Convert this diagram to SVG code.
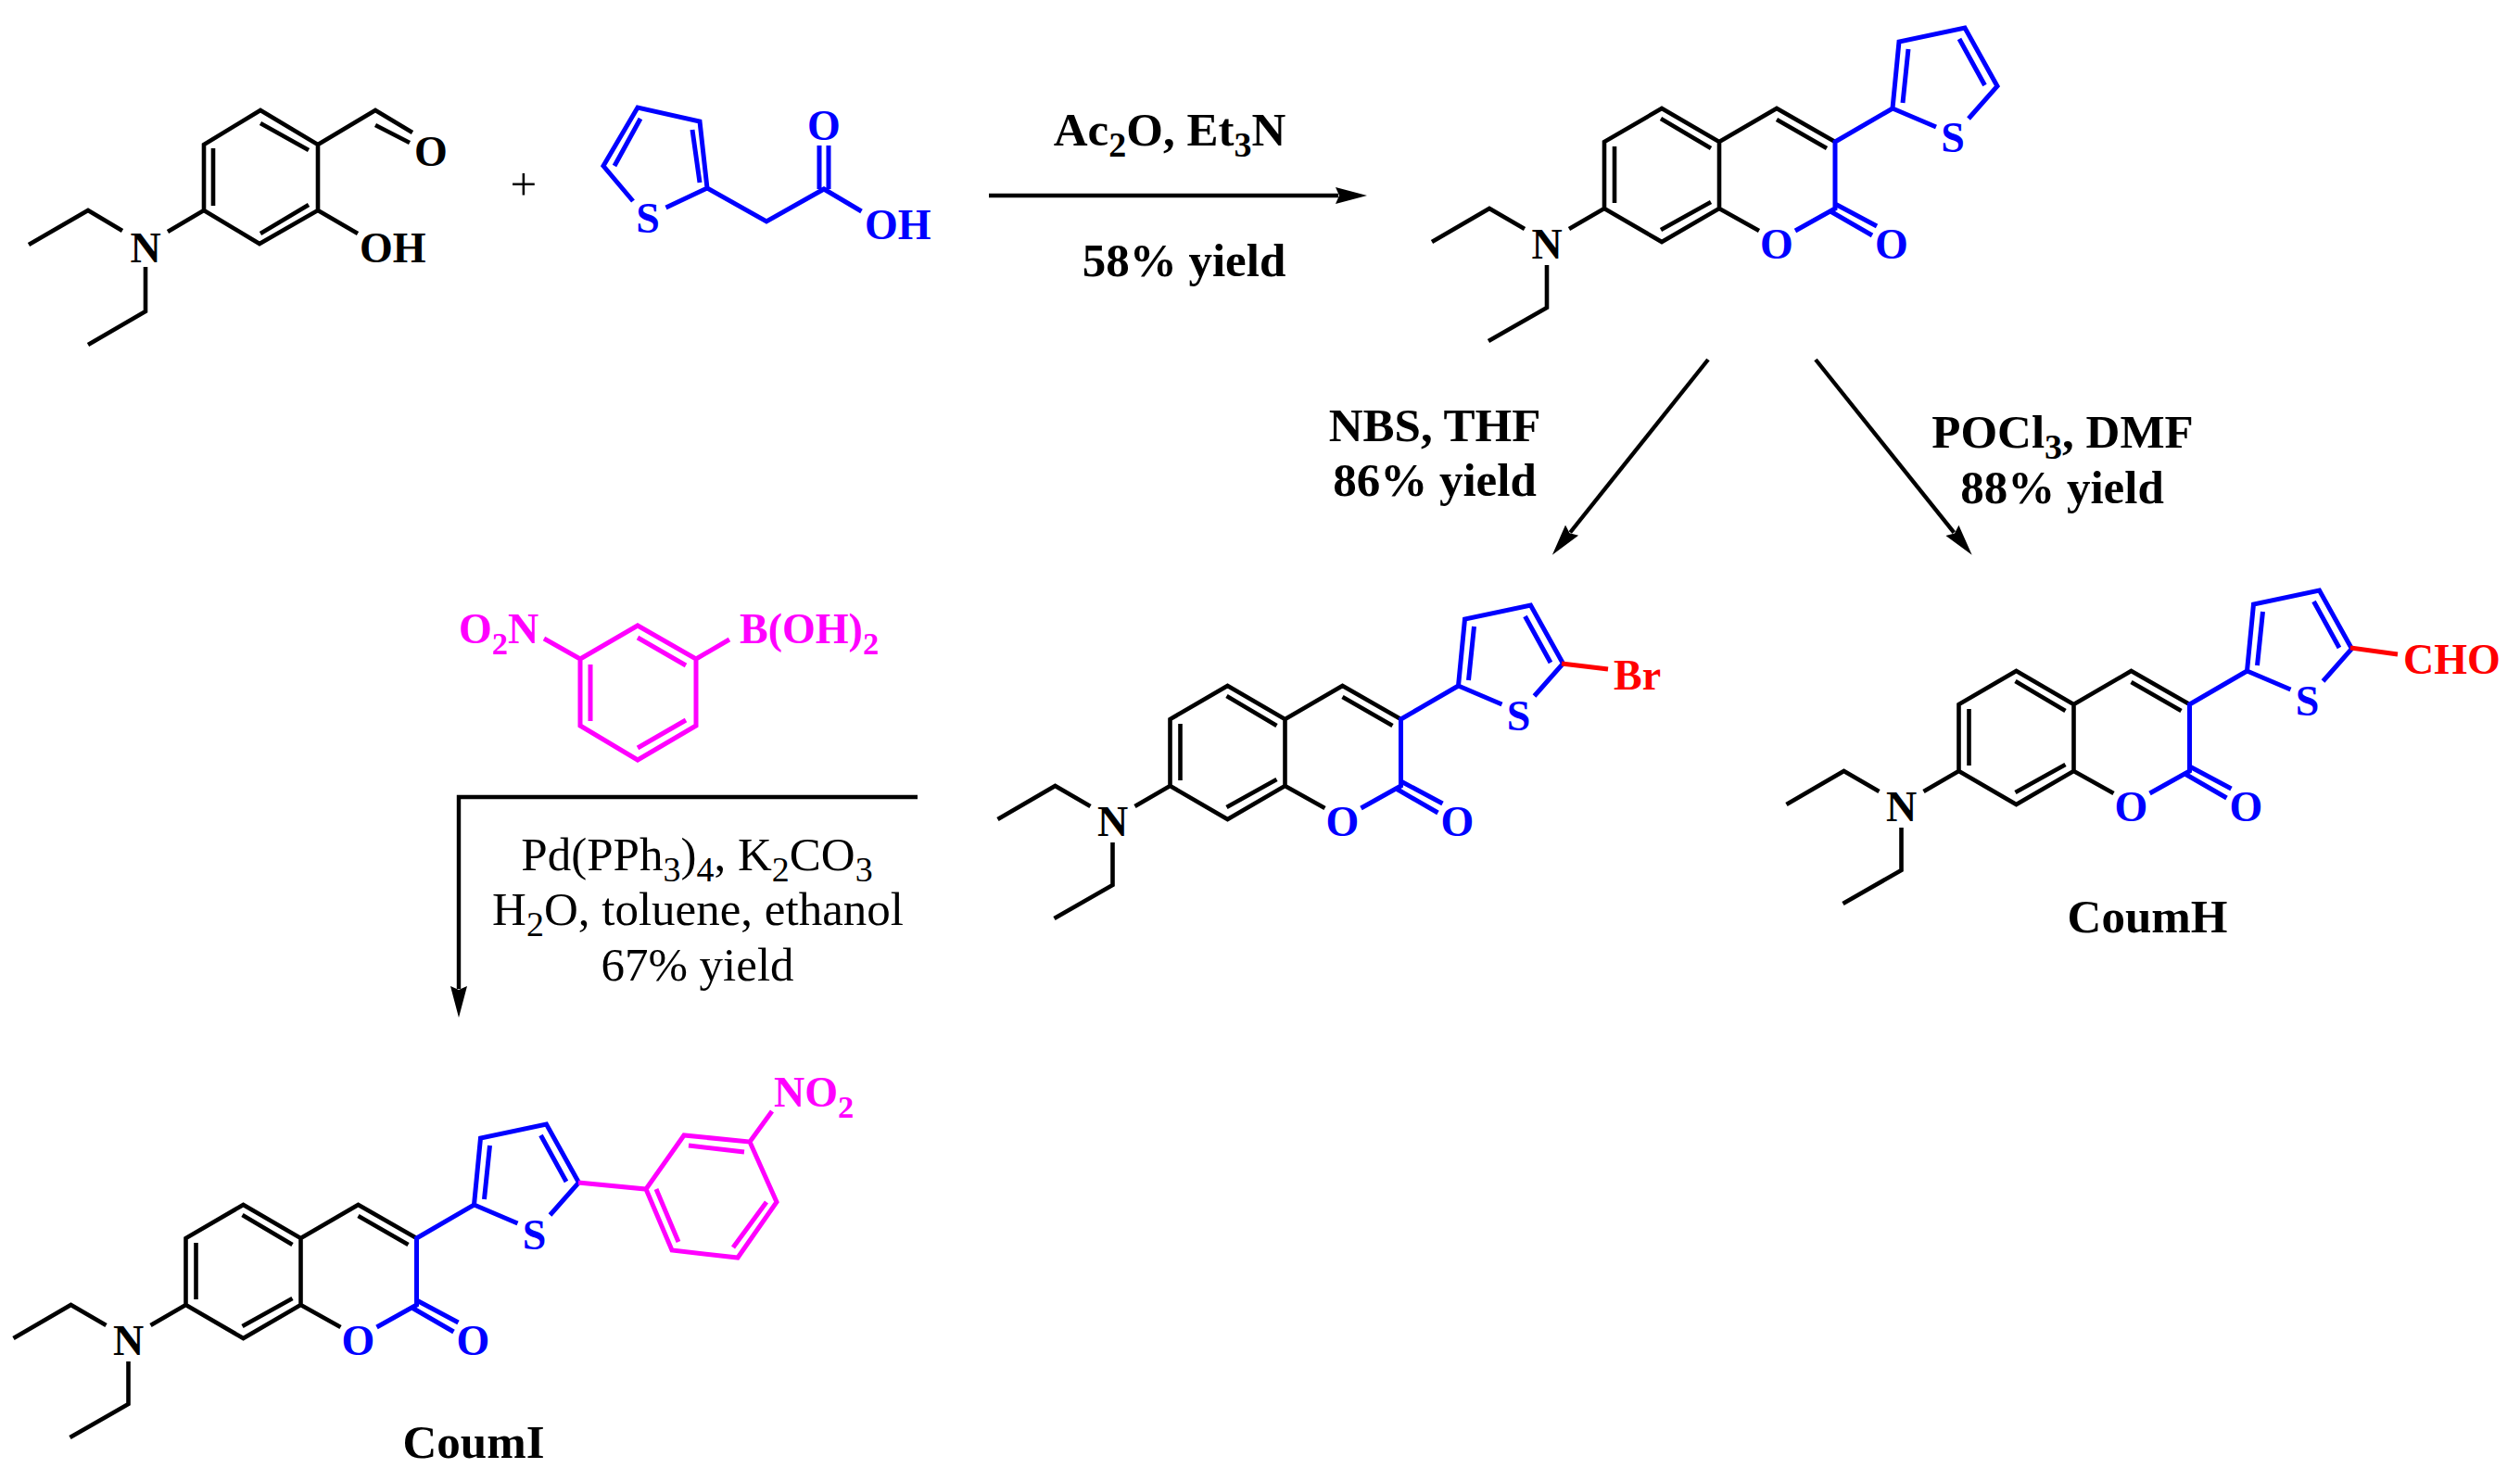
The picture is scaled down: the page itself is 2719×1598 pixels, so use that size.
<svg xmlns="http://www.w3.org/2000/svg" xmlns:xlink="http://www.w3.org/1999/xlink" width="2719" height="1598" viewBox="0 0 2719 1598">
<style>
.k,.b,.m,.r{fill:none;stroke-width:4.6;stroke-linejoin:miter;stroke-miterlimit:6}
.k{stroke:#000}.b{stroke:#00f;stroke-width:5}.m{stroke:#f0f;stroke-width:5}.r{stroke:#f00;stroke-width:5}
.arrow{fill:none;stroke:#000;stroke-width:4.4}
text{font-family:"Liberation Serif","Times New Roman",serif}
.a{font-size:46px;font-weight:700}
.t{font-size:51px;font-weight:700;text-anchor:middle}
.u{font-size:51px;font-weight:400;text-anchor:middle}
.c{text-anchor:middle}
.tk{fill:#000}.tb{fill:#00f}.tm{fill:#f0f}.tr{fill:#f00}
.s45{font-size:34.5px}.s50{font-size:38px}
</style>
<defs>
<marker id="head" markerUnits="userSpaceOnUse" markerWidth="40" markerHeight="24" refX="3" refY="12" orient="auto" viewBox="0 0 40 24">
<path d="M0,3 L34,12 L0,21 L4,12 Z" fill="#000"/>
</marker>
<g id="core">
<path class="k" d="M1545,261 L1607,225 L1645,247 M1669,286 V332 L1606,368 M1693,247 L1731,225 V153 L1793,117 L1855,153 V225 L1793,261 L1731,225 M1855,153 L1917,117 L1980,153 M1855,225 L1898,249 M1792,128 L1846,160 M1742,158 V219 M1846,218 L1792,248 M1917,129 L1971,160"/>
<path class="b" d="M2042,117 L1980,153 V225 L1937,249 M1980,220 L2025,244 M1975,228 L2020,254 M2089,137 L2042,117 L2049,45 L2120,30 L2155,93 L2124,128 M2059,53 L2053,111 M2114,42 L2141.5,92"/>
</g>
</defs>

<g id="salicylaldehyde">
<path class="k" d="M31,264 L95,227 L132,249 M157,288 V336 L95,372 M181,250 L220,227 V156 L281,119 L343,156 V227 L280,263 L220,227 M343,156 L405,119 L445,143 M405,135 L442,154 M281,133 L333,162 M230,160 V222 M333,221 L281,252 M343,227 L386,252"/>
<text class="a c tk" x="157" y="283">N</text>
<text class="a c tk" x="465" y="179">O</text>
<text class="a tk" x="388" y="283">OH</text>
</g>

<g id="plus"><text class="u" x="565" y="216">+</text></g>

<g id="thienylacetic-acid">
<path class="b" d="M683,217 L651,179 L688,116 L755,131 L763,203 L718.5,224 M691,128 L663,179 M747,140 L755,197 M763,203 L827,239 L889,204 L929.5,228 M884,157 V204 M894,157 V204"/>
<text class="a c tb" x="699" y="251">S</text>
<text class="a c tb" x="889" y="151">O</text>
<text class="a tb" x="933" y="258">OH</text>
</g>

<g id="connectors">
<line class="arrow" x1="1067" y1="211" x2="1444" y2="211" marker-end="url(#head)"/>
<line class="arrow" x1="1843" y1="388" x2="1694.2" y2="574.5" marker-end="url(#head)"/>
<line class="arrow" x1="1959" y1="388" x2="2108.3" y2="574.6" marker-end="url(#head)"/>
<polyline class="arrow" points="990,860 495,860 495,1067" marker-end="url(#head)"/>
</g>

<g id="reagents-1">
<text class="t" x="1262" y="157">Ac<tspan class="s50" dy="12">2</tspan><tspan dy="-12">O, Et</tspan><tspan class="s50" dy="12">3</tspan><tspan dy="-12">N</tspan></text>
<text class="t" x="1277.5" y="298">58% yield</text>
</g>
<g id="reagents-2">
<text class="t" x="1548" y="476">NBS, THF</text>
<text class="t" x="1548" y="535">86% yield</text>
</g>
<g id="reagents-3">
<text class="t" x="2225.5" y="483">POCl<tspan class="s50" dy="12">3</tspan><tspan dy="-12">, DMF</tspan></text>
<text class="t" x="2225" y="543">88% yield</text>
</g>
<g id="reagents-4">
<text class="u" x="752" y="939">Pd(PPh<tspan class="s50" dy="12">3</tspan><tspan dy="-12">)</tspan><tspan class="s50" dy="12">4</tspan><tspan dy="-12">, K</tspan><tspan class="s50" dy="12">2</tspan><tspan dy="-12">CO</tspan><tspan class="s50" dy="12">3</tspan></text>
<text class="u" x="753" y="998">H<tspan class="s50" dy="12">2</tspan><tspan dy="-12">O, toluene, ethanol</tspan></text>
<text class="u" x="752.5" y="1058">67% yield</text>
</g>

<g id="thienyl-coumarin">
<use href="#core"/>
<text class="a c tk" x="1669" y="279">N</text>
<text class="a c tb" x="1917" y="279">O</text>
<text class="a c tb" x="2041" y="279">O</text>
<text class="a c tb" x="2107" y="164">S</text>
</g>

<g id="bromo-coumarin">
<use href="#core" transform="translate(-468.5,623)"/>
<g transform="translate(-468.5,623)">
<text class="a c tk" x="1669" y="279">N</text>
<text class="a c tb" x="1917" y="279">O</text>
<text class="a c tb" x="2041" y="279">O</text>
<text class="a c tb" x="2107" y="165">S</text>
</g>
<path class="r" d="M1685,716 L1735,722"/>
<text class="a tr" x="1741" y="744">Br</text>
</g>

<g id="CoumH">
<use href="#core" transform="translate(382.5,607)"/>
<g transform="translate(382.5,607)">
<text class="a c tk" x="1669" y="279">N</text>
<text class="a c tb" x="1917" y="279">O</text>
<text class="a c tb" x="2041" y="279">O</text>
<text class="a c tb" x="2107" y="165">S</text>
</g>
<path class="r" d="M2536,699 L2587,706"/>
<text class="a tr" x="2593" y="727">CHO</text>
<text class="t" x="2317" y="1006">CoumH</text>
</g>

<g id="boronic-acid">
<path class="m" d="M587,689 L626,711 V783 L688,820 L751,783 V711 L688,675 L626,711 M751,711 L787,690 M688,688 L740,718 M637,717 V778 M688,807 L740,777"/>
<text class="a tm" x="495" y="694">O<tspan class="s45" dy="12">2</tspan><tspan dy="-12">N</tspan></text>
<text class="a tm" x="798" y="694">B(OH)<tspan class="s45" dy="12">2</tspan></text>
</g>

<g id="CoumI">
<use href="#core" transform="translate(-1530.5,1183)"/>
<g transform="translate(-1530.5,1183)">
<text class="a c tk" x="1669" y="279">N</text>
<text class="a c tb" x="1917" y="279">O</text>
<text class="a c tb" x="2041" y="279">O</text>
<text class="a c tb" x="2107" y="165">S</text>
</g>
<path class="m" d="M624,1276 L697,1283 L738,1225 L809,1232 L838,1297 L796,1357 L725,1349 L697,1283 M743,1236 L803,1243 M827,1297 L791,1346 M708,1283 L732,1340 M809,1232 L833,1199"/>
<text class="a tm" x="835" y="1194">NO<tspan class="s45" dy="12">2</tspan></text>
<text class="t" x="511" y="1573">CoumI</text>
</g>
</svg>
